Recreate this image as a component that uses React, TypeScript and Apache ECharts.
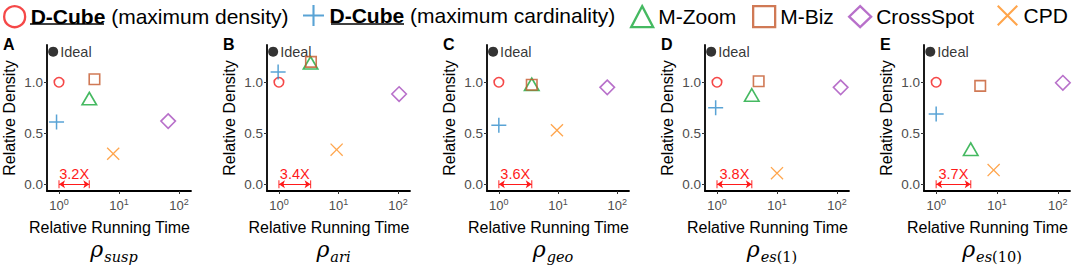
import React, { useEffect, useRef } from 'react';
import * as echarts from 'echarts';

// ---------- data ----------
const panelLetters = ['A', 'B', 'C', 'D', 'E'];
const metricSubscripts = ['susp', 'ari', 'geo', 'es', 'es'];
const metricArgs = ['', '', '', '(1)', '(10)'];

const methodNames = [
  'D-Cube (maximum density)',
  'D-Cube (maximum cardinality)',
  'M-Zoom',
  'M-Biz',
  'CrossSpot',
  'CPD',
];

const idealTime = [0.8, 0.8, 0.8, 0.8, 0.8];
const idealDensity = [1.3, 1.3, 1.3, 1.3, 1.3];

const dcubeDensityTime = [1, 1, 1, 1, 1];
const dcubeDensityValue = [1.0, 1.0, 1.0, 1.0, 1.0];
const dcubeCardTime = [0.91, 0.97, 1.0, 0.95, 1.0];
const dcubeCardValue = [0.61, 1.1, 0.58, 0.75, 0.69];
const mzoomTime = [3.2, 3.4, 3.6, 3.8, 3.7];
const mzoomValue = [0.84, 1.19, 0.98, 0.875, 0.345];
const mbizTime = [3.9, 3.45, 3.6, 4.95, 5.3];
const mbizValue = [1.03, 1.2, 0.975, 1.01, 0.965];
const crossspotTime = [66, 104, 68, 115, 121];
const crossspotValue = [0.62, 0.885, 0.95, 0.95, 0.995];
const cpdTime = [8.0, 9.3, 9.6, 10, 8.8];
const cpdValue = [0.3, 0.34, 0.53, 0.11, 0.14];

const speedups = [3.2, 3.4, 3.6, 3.8, 3.7];

const xTickValues = [1, 10, 100];
const yTickValues = [0, 0.5, 1.0];

// ---------- layout / styles ----------
const gridLefts = [47, 267, 487, 705, 924];
const gridWidths = [144, 143, 142, 144, 146];
const gridTop = 45;
const gridHeight = 146;
const legendLefts = [3, 303, 630, 752, 848, 997];

const FONT = 'Liberation Sans';
const SERIF = 'DejaVu Serif';

const PLUS_PATH = 'path://M9,0H11V9H20V11H11V20H9V11H0V9H9Z';
const CROSS_PATH =
  'path://M0,1.4L1.4,0L10,8.6L18.6,0L20,1.4L11.4,10L20,18.6L18.6,20L10,11.4L1.4,20L0,18.6L8.6,10Z';

const COLORS = ['#f31a1a', '#2f8ccb', '#17a83a', '#c4582a', '#a64cbd', '#ff8f1f'];
const ARROW_RED = '#ff1a1a';

const methodTimes = [dcubeDensityTime, dcubeCardTime, mzoomTime, mbizTime, crossspotTime, cpdTime];
const methodValues = [dcubeDensityValue, dcubeCardValue, mzoomValue, mbizValue, crossspotValue, cpdValue];

const plotSymbols: any[] = [
  { symbol: 'circle', symbolSize: 9.5, itemStyle: { color: 'rgba(0,0,0,0)', borderColor: COLORS[0], borderWidth: 1.6 } },
  { symbol: PLUS_PATH, symbolSize: 15, itemStyle: { color: COLORS[1], borderWidth: 0 } },
  { symbol: 'triangle', symbolSize: [14.5, 12.5], itemStyle: { color: 'rgba(0,0,0,0)', borderColor: COLORS[2], borderWidth: 1.6 } },
  { symbol: 'rect', symbolSize: 10.5, itemStyle: { color: 'rgba(0,0,0,0)', borderColor: COLORS[3], borderWidth: 1.6 } },
  { symbol: 'diamond', symbolSize: 14.5, itemStyle: { color: 'rgba(0,0,0,0)', borderColor: COLORS[4], borderWidth: 1.6 } },
  { symbol: CROSS_PATH, symbolSize: 13, itemStyle: { color: COLORS[5], borderWidth: 0 } },
];

const legendIcons: any[] = [
  { icon: 'circle', itemStyle: { color: 'rgba(0,0,0,0)', borderColor: COLORS[0], borderWidth: 2.3 } },
  { icon: PLUS_PATH, itemStyle: { color: COLORS[1], borderWidth: 0 } },
  { icon: 'triangle', itemStyle: { color: 'rgba(0,0,0,0)', borderColor: COLORS[2], borderWidth: 2.3 } },
  { icon: 'rect', itemStyle: { color: 'rgba(0,0,0,0)', borderColor: COLORS[3], borderWidth: 2.3 } },
  { icon: 'diamond', itemStyle: { color: 'rgba(0,0,0,0)', borderColor: COLORS[4], borderWidth: 2.3 } },
  { icon: CROSS_PATH, itemStyle: { color: COLORS[5], borderWidth: 0 } },
];

function buildOption() {
  const grid: any[] = [];
  const xAxis: any[] = [];
  const yAxis: any[] = [];
  const series: any[] = [];
  const graphic: any[] = [];

  panelLetters.forEach((letter, i) => {
    grid.push({
      left: gridLefts[i],
      top: gridTop,
      width: gridWidths[i],
      height: gridHeight,
      containLabel: false,
      outerBoundsMode: 'none',
    });
    xAxis.push({
      type: 'log',
      logBase: 10,
      gridIndex: i,
      min: Math.pow(10, -0.2),
      max: Math.pow(10, 2.2),
      name: 'Relative Running Time',
      nameLocation: 'middle',
      nameGap: 28,
      nameTextStyle: { fontSize: 16, color: '#000', fontFamily: FONT, padding: [0, 19, 0, 0] },
      axisLine: { show: true, onZero: false, lineStyle: { color: '#000', width: 1.8 } },
      axisTick: { show: true, length: 3, customValues: xTickValues, lineStyle: { color: '#333', width: 1 } },
      minorTick: { show: false },
      splitLine: { show: false },
      axisLabel: {
        customValues: xTickValues,
        margin: 6,
        formatter: (v: number) => `{b|10}{s|${Math.round(Math.log10(v))}}`,
        rich: {
          b: { fontSize: 13, color: '#4d4d4d', fontFamily: FONT },
          s: { fontSize: 9, color: '#4d4d4d', fontFamily: FONT, padding: [0, 0, 7, 0] },
        },
      },
    });
    yAxis.push({
      type: 'value',
      gridIndex: i,
      min: -0.065,
      max: 1.365,
      name: 'Relative Density',
      nameLocation: 'middle',
      nameGap: 30,
      nameTextStyle: { fontSize: 16, color: '#000', fontFamily: FONT },
      axisLine: { show: true, onZero: false, lineStyle: { color: '#000', width: 1.8 } },
      axisTick: { show: true, length: 3, customValues: yTickValues, lineStyle: { color: '#333', width: 1 } },
      splitLine: { show: false },
      axisLabel: {
        customValues: yTickValues,
        margin: 4,
        fontSize: 13.5,
        color: '#4d4d4d',
        fontFamily: FONT,
        formatter: (v: number) => v.toFixed(1),
      },
    });

    // Ideal point
    series.push({
      type: 'scatter',
      name: 'Ideal',
      xAxisIndex: i,
      yAxisIndex: i,
      data: [[idealTime[i], idealDensity[i]]],
      symbol: 'circle',
      symbolSize: 10,
      itemStyle: { color: '#000' },
      label: {
        show: true,
        position: 'right',
        distance: 2,
        formatter: 'Ideal',
        fontSize: 14.5,
        color: '#000',
        fontFamily: FONT,
      },
      silent: true,
    });

    // speed-up arrow
    series.push({
      type: 'lines',
      name: 'speedup',
      coordinateSystem: 'cartesian2d',
      xAxisIndex: i,
      yAxisIndex: i,
      data: [{ coords: [[dcubeDensityTime[i], 0], [speedups[i], 0]] }],
      symbol: ['arrow', 'arrow'],
      symbolSize: 6,
      lineStyle: { color: ARROW_RED, width: 1.2, opacity: 1 },
      label: {
        show: true,
        position: 'middle',
        formatter: `${speedups[i]}X`,
        color: ARROW_RED,
        fontSize: 14.5,
        fontFamily: FONT,
        distance: 3,
      },
      silent: true,
    });
    series.push({
      type: 'scatter',
      name: 'speedup-ends',
      xAxisIndex: i,
      yAxisIndex: i,
      data: [[dcubeDensityTime[i], 0], [speedups[i], 0]],
      symbol: 'rect',
      symbolSize: [1.2, 8],
      itemStyle: { color: ARROW_RED },
      silent: true,
    });

    methodNames.forEach((name, m) => {
      series.push({
        type: 'scatter',
        name,
        xAxisIndex: i,
        yAxisIndex: i,
        data: [[methodTimes[m][i], methodValues[m][i]]],
        ...plotSymbols[m],
        z: 3,
      });
    });

    // panel letter
    graphic.push({
      type: 'text',
      x: gridLefts[i] - 44,
      y: 36,
      style: {
        text: letter,
        font: `bold 16px "${FONT}"`,
        fill: '#000',
        align: 'left',
        verticalAlign: 'top',
      },
    });

    // metric title  rho_{sub}
    const arg = metricArgs[i];
    graphic.push({
      type: 'text',
      x: gridLefts[i] + gridWidths[i] / 2 - 5,
      y: 249.5,
      style: {
        text: `{r|ρ}{s|${metricSubscripts[i]}}` + (arg ? `{u|${arg}}` : ''),
        align: 'center',
        verticalAlign: 'middle',
        fill: '#000',
        rich: {
          r: { fontSize: 22, fontStyle: 'italic', fontFamily: SERIF, fill: '#000', padding: [0, 1, 0, 0] },
          s: { fontSize: 14.5, fontStyle: 'italic', fontFamily: SERIF, fill: '#000', padding: [14, 0, 0, 0] },
          u: { fontSize: 14.5, fontFamily: SERIF, fill: '#000', padding: [14, 0, 0, 0] },
        },
      },
    });
  });

  // underline of the bold "D-Cube" labels in the legend
  graphic.push({ type: 'line', shape: { x1: 30, y1: 24, x2: 104, y2: 24 }, style: { stroke: '#000', lineWidth: 1.5 } });
  graphic.push({ type: 'line', shape: { x1: 331, y1: 24, x2: 404, y2: 24 }, style: { stroke: '#000', lineWidth: 1.5 } });

  const legend = methodNames.map((name, m) => ({
    data: [{ name, ...legendIcons[m] }],
    left: legendLefts[m],
    top: 5,
    padding: 0,
    itemGap: 0,
    itemWidth: 22,
    itemHeight: 21,
    selectedMode: false,
    textStyle: {
      fontSize: 21,
      color: '#000',
      fontFamily: FONT,
      rich: {
        b: { fontSize: 21, fontWeight: 'bold', color: '#000', fontFamily: FONT },
        n: { fontSize: 21, color: '#000', fontFamily: FONT },
      },
    },
    formatter: (n: string) => (n.startsWith('D-Cube') ? `{b|D-Cube}{n|${n.slice(6)}}` : n),
  }));

  return {
    animation: false,
    textStyle: { fontFamily: FONT },
    legend,
    grid,
    xAxis,
    yAxis,
    series,
    graphic,
  };
}

export default function App() {
  const ref = useRef<HTMLDivElement>(null);
  useEffect(() => {
    if (!ref.current) return;
    const chart = echarts.init(ref.current, undefined, { renderer: 'svg' });
    chart.setOption(buildOption() as any);
    return () => chart.dispose();
  }, []);
  return (
    <div
      ref={ref}
      style={{ position: 'absolute', left: 0, top: 0, width: 1072, height: 271, background: '#fff' }}
    />
  );
}
